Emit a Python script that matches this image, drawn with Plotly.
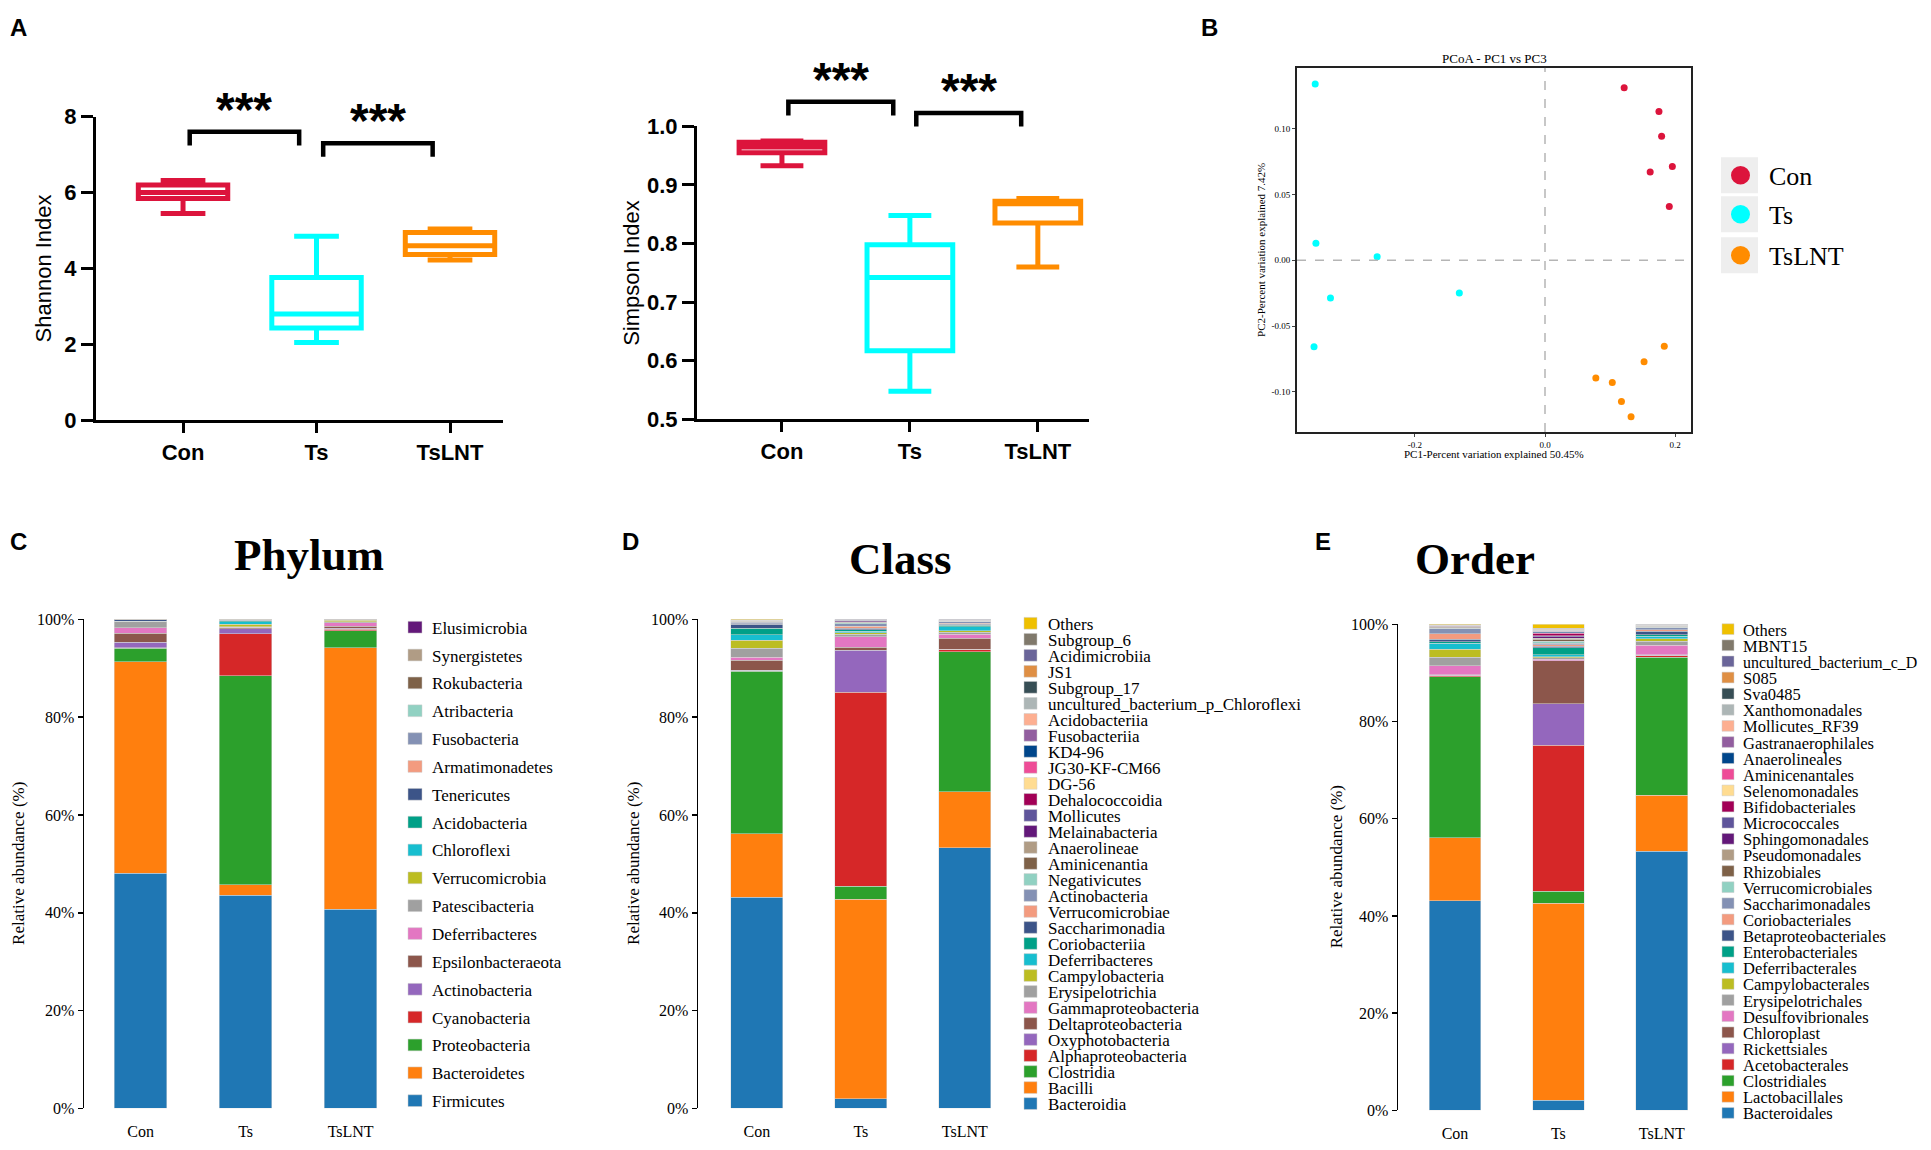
import plotly.graph_objects as go

# Target canvas is 1931x1150; the page body keeps its default 8px margin,
# so the figure itself is drawn 16px smaller and all pixel positions are
# expressed in page coordinates and shifted by that margin.
W, H = 1931, 1150
M = 8
FW, FH = W - 2 * M, H - 2 * M
SERIF = "Liberation Serif, Times New Roman, serif"
SANS = "Liberation Sans, Arial, Helvetica, sans-serif"

# ---------------- data ----------------
groups = ["Con", "Ts", "TsLNT"]
group_colors = ["#DC143C", "#00FFFF", "#FF8C00"]

# Panel A: alpha diversity box statistics (min, q1, median, q3, max)
shannon_low = [5.45, 2.05, 4.22]
shannon_q1 = [5.84, 2.43, 4.37]
shannon_median = [6.00, 2.80, 4.60]
shannon_q3 = [6.20, 3.76, 4.95]
shannon_high = [6.32, 4.85, 5.04]

simpson_low = [0.933, 0.548, 0.760]
simpson_q1 = [0.955, 0.617, 0.835]
simpson_median = [0.965, 0.742, 0.868]
simpson_q3 = [0.973, 0.798, 0.872]
simpson_high = [0.975, 0.848, 0.877]

sig_pairs = [(0, 1), (1, 2)]
sig_labels = ["***", "***"]
shannon_bracket_level = [7.60, 7.30]
simpson_bracket_level = [1.042, 1.023]

# Panel B: PCoA coordinates
con_pc1 = [0.1218, 0.1753, 0.1794, 0.1959, 0.1618, 0.1912]
con_pc2 = [0.1310, 0.1131, 0.0943, 0.0713, 0.0671, 0.0408]
ts_pc1 = [-0.3535, -0.3524, -0.2582, -0.3300, -0.1318, -0.3553]
ts_pc2 = [0.1340, 0.0129, 0.0027, -0.0287, -0.0248, -0.0656]
tslnt_pc1 = [0.1835, 0.1524, 0.0782, 0.1035, 0.1176, 0.1324]
tslnt_pc2 = [-0.0653, -0.0770, -0.0894, -0.0928, -0.1072, -0.1188]
pcoa_x = [con_pc1, ts_pc1, tslnt_pc1]
pcoa_y = [con_pc2, ts_pc2, tslnt_pc2]

# Panels C-E: relative abundance (%), bottom -> top
palette = ["#1f77b4", "#ff7f0e", "#2ca02c", "#d62728", "#9467bd", "#8c564b",
           "#e377c2", "#a0a0a0", "#bcbd22", "#17becf", "#00A087", "#3C5488",
           "#F39B7F", "#8491B4", "#91D1C2", "#7E6148", "#B09C85", "#631879",
           "#5F559B", "#A20056", "#FFDC91", "#EE4C97", "#00468B", "#925E9F",
           "#FDAF91", "#ADB6B6", "#374E55", "#DF8F44", "#6A6599", "#80796B",
           "#EFC000"]

phylum_names = ["Firmicutes", "Bacteroidetes", "Proteobacteria", "Cyanobacteria",
                "Actinobacteria", "Epsilonbacteraeota", "Deferribacteres",
                "Patescibacteria", "Verrucomicrobia", "Chloroflexi", "Acidobacteria",
                "Tenericutes", "Armatimonadetes", "Fusobacteria", "Atribacteria",
                "Rokubacteria", "Synergistetes", "Elusimicrobia"]
phylum_con = [48.2, 43.3, 2.8, 0.1, 1.1, 1.9, 1.1, 1.2, 0.05, 0.05, 0.05, 0.25,
              0.02, 0.02, 0.02, 0.02, 0.02, 0.02]
phylum_ts = [43.6, 2.1, 42.8, 8.6, 1.0, 0.15, 0.1, 0.15, 0.5, 0.5, 0.25, 0.1,
             0.03, 0.03, 0.03, 0.02, 0.02, 0.02]
phylum_tslnt = [40.8, 53.5, 3.4, 0.3, 0.2, 0.5, 0.7, 0.2, 0.3, 0.05, 0.03, 0.02,
                0.01, 0.01, 0.01, 0.01, 0.01, 0.01]

class_names = ["Bacteroidia", "Bacilli", "Clostridia", "Alphaproteobacteria",
               "Oxyphotobacteria", "Deltaproteobacteria", "Gammaproteobacteria",
               "Erysipelotrichia", "Campylobacteria", "Deferribacteres",
               "Coriobacteriia", "Saccharimonadia", "Verrucomicrobiae",
               "Actinobacteria", "Negativicutes", "Aminicenantia", "Anaerolineae",
               "Melainabacteria", "Mollicutes", "Dehalococcoidia", "DG-56",
               "JG30-KF-CM66", "KD4-96", "Fusobacteriia", "Acidobacteriia",
               "uncultured_bacterium_p_Chloroflexi", "Subgroup_17", "JS1",
               "Acidimicrobiia", "Subgroup_6", "Others"]
class_con = [43.2, 13.0, 33.2, 0.2, 0.1, 2.0, 0.6, 1.9, 1.6, 1.1, 1.3, 0.9, 0.1,
             0.3, 0.1, 0.02, 0.02, 0.1, 0.1, 0.02, 0.01, 0.01, 0.02, 0.02, 0.01,
             0.02, 0.02, 0.01, 0.01, 0.02, 0.05]
class_ts = [2.0, 40.8, 2.6, 39.7, 8.6, 0.6, 2.2, 0.5, 0.3, 0.3, 0.3, 0.3, 0.4,
            0.5, 0.2, 0.1, 0.1, 0.2, 0.1, 0.1, 0.01, 0.01, 0.01, 0.01, 0.01,
            0.01, 0.01, 0.01, 0.01, 0.01, 0.01]
class_tslnt = [53.3, 11.5, 28.6, 0.5, 0.05, 2.3, 0.8, 0.4, 0.3, 0.8, 0.3, 0.2,
               0.2, 0.3, 0.1, 0.05, 0.05, 0.1, 0.05, 0.05, 0.01, 0.01, 0.01,
               0.01, 0.01, 0.01, 0.01, 0.01, 0.01, 0.01, 0.01]

order_names = ["Bacteroidales", "Lactobacillales", "Clostridiales", "Acetobacterales",
               "Rickettsiales", "Chloroplast", "Desulfovibrionales",
               "Erysipelotrichales", "Campylobacterales", "Deferribacterales",
               "Enterobacteriales", "Betaproteobacteriales", "Coriobacteriales",
               "Saccharimonadales", "Verrucomicrobiales", "Rhizobiales",
               "Pseudomonadales", "Sphingomonadales", "Micrococcales",
               "Bifidobacteriales", "Selenomonadales", "Aminicenantales",
               "Anaerolineales", "Gastranaerophilales", "Mollicutes_RF39",
               "Xanthomonadales", "Sva0485", "S085", "uncultured_bacterium_c_D",
               "MBNT15", "Others"]
order_con = [43.2, 12.9, 33.2, 0.15, 0.1, 0.15, 1.8, 1.8, 1.6, 1.3, 0.3, 0.5, 1.1,
             1.1, 0.1, 0.2, 0.1, 0.05, 0.1, 0.05, 0.02, 0.02, 0.02, 0.02, 0.05,
             0.02, 0.02, 0.02, 0.02, 0.02, 0.05]
order_ts = [2.1, 40.5, 2.5, 30.0, 8.6, 8.8, 0.3, 0.3, 0.2, 0.4, 1.5, 0.3, 0.3, 0.3,
            0.4, 0.3, 0.3, 0.3, 0.2, 0.4, 0.1, 0.2, 0.2, 0.1, 0.1, 0.1, 0.1, 0.1,
            0.1, 0.1, 0.8]
order_tslnt = [53.3, 11.5, 28.4, 0.3, 0.1, 0.1, 2.0, 0.8, 0.5, 0.6, 0.3, 0.7, 0.3,
               0.4, 0.1, 0.1, 0.1, 0.1, 0.05, 0.05, 0.02, 0.02, 0.02, 0.02, 0.02,
               0.02, 0.02, 0.02, 0.02, 0.02, 0.02]

pct_ticks = [0, 20, 40, 60, 80, 100]

# ---------------- layout geometry (page pixels) ----------------
SH = dict(x=(96, 503.4), xr=[-0.652, 2.4], y=(107, 418), yr=[0, 8])
SI = dict(x=(697, 1089), xr=[-0.664, 2.4], y=(117, 417), yr=[0.5, 1.0])
PC = dict(x=(1297, 1691), xr=[-0.3815, 0.2246], y=(57, 430), yr=[-0.1304, 0.1462])
PH = dict(x=(84, 380), xr=[-0.54, 2.28], y=(622, 1123))
CL = dict(x=(698, 996), xr=[-0.567, 2.3], y=(622, 1123))
OR = dict(x=(1398, 1700), xr=[-0.551, 2.37], y=(627, 1125))


def xdom(d):
    return [(d["x"][0] - M) / FW, (d["x"][1] - M) / FW]


def ydom(d):
    return [1 - (d["y"][1] - M) / FH, 1 - (d["y"][0] - M) / FH]


def px_x(v, d):
    return d["x"][0] + (v - d["xr"][0]) / (d["xr"][1] - d["xr"][0]) * (d["x"][1] - d["x"][0])


def px_y(v, d):
    return d["y"][1] - (v - d["yr"][0]) / (d["yr"][1] - d["yr"][0]) * (d["y"][1] - d["y"][0])


def P(xp, yp):
    return (xp - M) / FW, 1 - (yp - M) / FH


fig = go.Figure()
shapes = []
annotations = []

# ---------------- Panel A: box plots ----------------
box_sets = [
    ("x", "y", shannon_low, shannon_q1, shannon_median, shannon_q3, shannon_high),
    ("x2", "y2", simpson_low, simpson_q1, simpson_median, simpson_q3, simpson_high),
]
for xa, ya, lo, q1, md, q3, hi in box_sets:
    for k, g in enumerate(groups):
        fig.add_trace(go.Box(
            x=[g], lowerfence=[lo[k]], q1=[q1[k]], median=[md[k]], q3=[q3[k]],
            upperfence=[hi[k]], xaxis=xa, yaxis=ya, width=0.67, whiskerwidth=0.5,
            line=dict(color=group_colors[k], width=5), fillcolor="rgba(255,255,255,0)",
            boxpoints=False, showlegend=False, hoverinfo="skip"))

LEG_DROP = 14
STAR_GAP = 27
STAR_FS = 48
for d, levels in [(SH, shannon_bracket_level), (SI, simpson_bracket_level)]:
    for (i, j), lab, lev in zip(sig_pairs, sig_labels, levels):
        x1 = px_x(i + 0.05, d)
        x2 = px_x(j - 0.13, d)
        yt = px_y(lev, d)
        yb = yt + LEG_DROP
        a1, b1 = P(x1, yb)
        a2, b2 = P(x1, yt)
        a3, b3 = P(x2, yt)
        a4, b4 = P(x2, yb)
        shapes.append(dict(type="path", xref="paper", yref="paper",
                           path=f"M {a1},{b1} L {a2},{b2} L {a3},{b3} L {a4},{b4}",
                           line=dict(color="black", width=4.5)))
        sx, sy = P((x1 + x2) / 2, yt - STAR_GAP + 0.08 * STAR_FS)
        annotations.append(dict(text=lab, x=sx, y=sy, xref="paper", yref="paper",
                                showarrow=False, xanchor="center", yanchor="middle",
                                font=dict(family=SANS, size=STAR_FS, color="black",
                                          weight="bold")))

# axis titles panel A
for txt, xp, d in [("Shannon Index", 43, SH), ("Simpson Index", 632, SI)]:
    ax_, ay_ = P(xp, (d["y"][0] + d["y"][1]) / 2)
    annotations.append(dict(text=txt, x=ax_, y=ay_, xref="paper", yref="paper",
                            showarrow=False, textangle=-90, xanchor="center",
                            yanchor="middle", font=dict(family=SANS, size=22, color="black")))

# ---------------- Panel B: PCoA ----------------
for k, g in enumerate(groups):
    fig.add_trace(go.Scatter(x=pcoa_x[k], y=pcoa_y[k], mode="markers", name=g,
                             marker=dict(color=group_colors[k], size=7),
                             xaxis="x3", yaxis="y3", showlegend=False))
shapes.append(dict(type="line", xref="x3", yref="y3", x0=0, x1=0, y0=PC["yr"][0],
                   y1=PC["yr"][1], line=dict(color="#b5b5b5", width=1.5, dash="dash")))
shapes.append(dict(type="line", xref="x3", yref="y3", x0=PC["xr"][0], x1=PC["xr"][1],
                   y0=0, y1=0, line=dict(color="#b5b5b5", width=1.5, dash="dash")))
for txt, xp, yp, ang, fs in [("PCoA - PC1 vs PC3", 1494, 47, 0, 13),
                             ("PC1-Percent variation explained 50.45%", 1494, 453, 0, 11),
                             ("PC2-Percent variation explained 7.42%", 1261, 243.5, -90, 11)]:
    ax_, ay_ = P(xp, yp)
    annotations.append(dict(text=txt, x=ax_, y=ay_, xref="paper", yref="paper",
                            showarrow=False, textangle=ang, xanchor="center",
                            yanchor="middle", font=dict(family=SERIF, size=fs, color="black")))
# legend B
leg_y = [167, 207, 249]
for k, g in enumerate(groups):
    x0, y0 = P(1721, leg_y[k] - 18.5)
    x1, y1 = P(1758, leg_y[k] + 18.5)
    shapes.append(dict(type="rect", xref="paper", yref="paper", x0=x0, x1=x1, y0=y1, y1=y0,
                       fillcolor="#eeeeee", line=dict(width=0)))
    c0x, c0y = P(1731, leg_y[k] - 9.5)
    c1x, c1y = P(1750, leg_y[k] + 9.5)
    shapes.append(dict(type="circle", xref="paper", yref="paper", x0=c0x, x1=c1x,
                       y0=c1y, y1=c0y, fillcolor=group_colors[k], line=dict(width=0)))
    tx, ty = P(1767, leg_y[k] + 1)
    annotations.append(dict(text=g, x=tx, y=ty, xref="paper", yref="paper", showarrow=False,
                            xanchor="left", yanchor="middle",
                            font=dict(family=SERIF, size=26, color="black")))

# ---------------- Panels C-E: stacked bars ----------------
bar_sets = [
    ("x4", "y4", PH, phylum_names, [phylum_con, phylum_ts, phylum_tslnt]),
    ("x5", "y5", CL, class_names, [class_con, class_ts, class_tslnt]),
    ("x6", "y6", OR, order_names, [order_con, order_ts, order_tslnt]),
]
for xa, ya, d, names, samples in bar_sets:
    for i, nm in enumerate(names):
        fig.add_trace(go.Bar(x=groups, y=[s[i] for s in samples], name=nm,
                             marker=dict(color=palette[i], line=dict(color="#d9d9d9", width=0.5)),
                             xaxis=xa, yaxis=ya, showlegend=False))

# manual legends (top entry = last taxon)
legend_specs = [
    (phylum_names, 408, 14, 12, 430, 630, 28.53, 17, 1e9),
    (class_names, 1024, 13, 12, 1046, 626, 16.4, 17, 1e9),
    (order_names, 1722, 12, 11, 1741, 632, 16.52, 16.5, 1915),
]
for names, sq_x, sq_w, sq_h, tx_x, y_top, pitch, fs, x_limit in legend_specs:
    for r, nm in enumerate(reversed(names)):
        idx = len(names) - 1 - r
        yc = y_top + r * pitch
        x0, y0 = P(sq_x, yc - sq_h / 2)
        x1, y1 = P(sq_x + sq_w, yc + sq_h / 2)
        shapes.append(dict(type="rect", xref="paper", yref="paper", x0=x0, x1=x1,
                           y0=y1, y1=y0, fillcolor=palette[idx],
                           line=dict(color="#cccccc", width=0.5)))
        # shrink a label only if it would run past the canvas edge
        est_w = 0.455 * fs * len(nm)
        size = fs if tx_x + est_w <= x_limit else fs * (x_limit - tx_x) / est_w
        tx, ty = P(tx_x, yc + 1)
        annotations.append(dict(text=nm, x=tx, y=ty, xref="paper", yref="paper",
                                showarrow=False, xanchor="left", yanchor="middle",
                                font=dict(family=SERIF, size=size, color="black")))

for txt, xp, yp in [("Phylum", 309, 556), ("Class", 900, 560), ("Order", 1475, 560)]:
    ax_, ay_ = P(xp, yp)
    annotations.append(dict(text=txt, x=ax_, y=ay_, xref="paper", yref="paper",
                            showarrow=False, xanchor="center", yanchor="middle",
                            font=dict(family=SERIF, size=45, color="black", weight="bold")))
for xp, d in [(19, PH), (634, CL), (1336, OR)]:
    ax_, ay_ = P(xp, (d["y"][0] + d["y"][1]) / 2)
    annotations.append(dict(text="Relative abundance (%)", x=ax_, y=ay_, xref="paper",
                            yref="paper", showarrow=False, textangle=-90,
                            xanchor="center", yanchor="middle",
                            font=dict(family=SERIF, size=17, color="black")))

# panel letters
for lab, xp, yp in [("A", 8, 16), ("B", 1199, 16), ("C", 8, 542), ("D", 620, 542),
                    ("E", 1313, 542)]:
    ax_, ay_ = P(xp, yp)
    annotations.append(dict(text=lab, x=ax_, y=ay_, xref="paper", yref="paper",
                            showarrow=False, xanchor="left", yanchor="middle",
                            font=dict(family=SANS, size=24, color="black", weight="bold")))

# ---------------- axes ----------------
prism_x = dict(showline=True, linewidth=3, linecolor="black", ticks="outside", ticklen=10,
               tickwidth=3, tickcolor="black", showgrid=False, zeroline=False,
               type="category", categoryorder="array", categoryarray=groups,
               tickfont=dict(family=SANS, size=22, color="black", weight="bold"))
prism_y = dict(showline=True, linewidth=3, linecolor="black", ticks="outside", ticklen=12,
               tickwidth=3, tickcolor="black", showgrid=False, zeroline=False,
               tickfont=dict(family=SANS, size=22, color="black", weight="bold"))

bar_x = dict(showline=False, ticks="outside", ticklen=8, tickcolor="rgba(0,0,0,0)",
             showgrid=False, zeroline=False, type="category",
             categoryorder="array", categoryarray=groups,
             tickfont=dict(family=SERIF, size=16, color="black"))
bar_y = dict(showline=True, linewidth=1.5, linecolor="black", ticks="outside", ticklen=5,
             tickwidth=1.5, tickcolor="black", showgrid=False, zeroline=False,
             range=[0, 100], tickvals=pct_ticks, ticktext=[f"{t}%" for t in pct_ticks],
             tickfont=dict(family=SERIF, size=16, color="black"))

fig.update_layout(
    width=FW, height=FH, autosize=False,
    margin=dict(l=0, r=0, t=0, b=0, pad=0),
    paper_bgcolor="white", plot_bgcolor="white",
    showlegend=False, barmode="stack", barnorm="percent", bargap=0.5,
    boxmode="overlay",
    xaxis=dict(prism_x, domain=xdom(SH), range=SH["xr"], anchor="y"),
    yaxis=dict(prism_y, domain=ydom(SH), range=SH["yr"], tickvals=[0, 2, 4, 6, 8], anchor="x"),
    xaxis2=dict(prism_x, domain=xdom(SI), range=SI["xr"], anchor="y2"),
    yaxis2=dict(prism_y, domain=ydom(SI), range=SI["yr"],
                tickvals=[0.5, 0.6, 0.7, 0.8, 0.9, 1.0], tickformat=".1f", anchor="x2"),
    xaxis3=dict(domain=xdom(PC), range=PC["xr"], anchor="y3", showline=True, mirror=True,
                linewidth=2, linecolor="#222222", ticks="outside", ticklen=3, tickwidth=1,
                showgrid=False, zeroline=False, tickvals=[-0.2, 0.0, 0.2],
                ticktext=["-0.2", "0.0", "0.2"],
                tickfont=dict(family=SERIF, size=9, color="black")),
    yaxis3=dict(domain=ydom(PC), range=PC["yr"], anchor="x3", showline=True, mirror=True,
                linewidth=2, linecolor="#222222", ticks="outside", ticklen=3, tickwidth=1,
                showgrid=False, zeroline=False, tickvals=[-0.10, -0.05, 0.0, 0.05, 0.10],
                ticktext=["-0.10", "-0.05", "0.00", "0.05", "0.10"],
                tickfont=dict(family=SERIF, size=9, color="black")),
    xaxis4=dict(bar_x, domain=xdom(PH), range=PH["xr"], anchor="y4"),
    yaxis4=dict(bar_y, domain=ydom(PH), anchor="x4"),
    xaxis5=dict(bar_x, domain=xdom(CL), range=CL["xr"], anchor="y5"),
    yaxis5=dict(bar_y, domain=ydom(CL), anchor="x5"),
    xaxis6=dict(bar_x, domain=xdom(OR), range=OR["xr"], anchor="y6"),
    yaxis6=dict(bar_y, domain=ydom(OR), anchor="x6"),
    shapes=shapes,
    annotations=annotations,
)

fig.write_html("out.html", config={"displayModeBar": False, "staticPlot": True})
